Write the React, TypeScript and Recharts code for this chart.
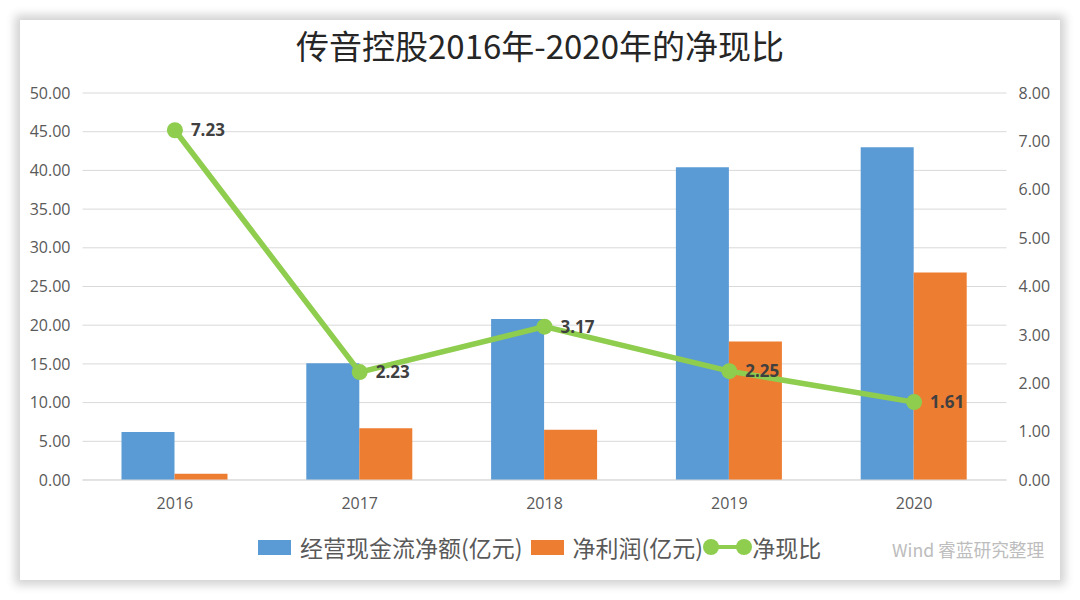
import React from 'react';
import { ComposedChart, Bar, Line, XAxis, YAxis, CartesianGrid, Legend, LabelList } from 'recharts';

const years = ['2016', '2017', '2018', '2019', '2020'];
const cashFlow = [6.2, 15.1, 20.8, 40.4, 43.0];
const netProfit = [0.8, 6.7, 6.5, 17.9, 26.8];
const ratio = [7.23, 2.23, 3.17, 2.25, 1.61];
const leftTicks = [0, 5, 10, 15, 20, 25, 30, 35, 40, 45, 50];
const rightTicks = [0, 1, 2, 3, 4, 5, 6, 7, 8];

const data = years.map((year, i) => ({
  year,
  cashFlow: cashFlow[i],
  netProfit: netProfit[i],
  ratio: ratio[i],
}));

const BLUE = '#5B9BD5';
const ORANGE = '#ED7D31';
const GREEN = '#8ECD4E';
const TICK_FONT = '"Open Sans", "Noto Sans", sans-serif';
const CJK_FONT = '"Noto Sans CJK SC", sans-serif';

const tickStyle = { fill: '#595959', fontSize: 16, fontFamily: TICK_FONT };

const LegendContent: React.FC<any> = ({ payload }) => (
  <div style={{ display: 'flex', alignItems: 'center', height: 30, fontFamily: CJK_FONT, fontSize: 23, color: '#595959', whiteSpace: 'nowrap' }}>
    {(payload || []).map((item: any, i: number) =>
      item.type === 'line' ? (
        <span key={item.value} style={{ display: 'flex', alignItems: 'center' }}>
          <svg width={49} height={20}>
            <line x1={8} y1={10} x2={41} y2={10} stroke={item.color} strokeWidth={4} />
            <circle cx={8} cy={10} r={8} fill={item.color} />
            <circle cx={41} cy={10} r={8} fill={item.color} />
          </svg>
          <span>{item.value}</span>
        </span>
      ) : (
        <span key={item.value} style={{ display: 'flex', alignItems: 'center', marginRight: i === 0 ? 8 : 0 }}>
          <span style={{ width: 33, height: 15, background: item.color, marginRight: 9 }} />
          <span>{item.value}</span>
        </span>
      ),
    )}
  </div>
);

export default function App() {
  return (
    <div style={{ position: 'absolute', left: 0, top: 0, width: 1080, height: 600, background: '#fff', overflow: 'hidden' }}>
      <div style={{ position: 'absolute', left: 20, top: 20, width: 1040, height: 560, background: '#fff', boxShadow: '0 0 9px 5px #d2d2d2' }} />
      <div style={{ position: 'absolute', left: 20, top: 19, width: 1040, textAlign: 'center', fontFamily: CJK_FONT, fontSize: 33, lineHeight: '52px', color: '#262626' }}>
        传音控股2016年-2020年的净现比
      </div>
      <div style={{ position: 'absolute', left: 892, top: 537, fontFamily: CJK_FONT, fontSize: 17.7, lineHeight: '24px', color: '#bdbdbd', whiteSpace: 'nowrap' }}>
        Wind 睿蓝研究整理
      </div>
      <div style={{ position: 'absolute', left: 0, top: 0 }}>
        <ComposedChart width={1080} height={600} data={data} barGap={0} barSize={53} margin={{ top: 93, right: 0, bottom: 90, left: 0 }}>
          <CartesianGrid yAxisId="left" stroke="#D9D9D9" vertical={false} />
          <XAxis dataKey="year" height={30} stroke="#D9D9D9" tickLine={false} tick={tickStyle} tickMargin={12} />
          <YAxis yAxisId="left" width={82.5} domain={[0, 50]} ticks={leftTicks} axisLine={false} tickLine={false} tick={tickStyle} tickMargin={6} tickFormatter={(v: number) => v.toFixed(2)} />
          <YAxis yAxisId="right" orientation="right" width={73.5} domain={[0, 8]} ticks={rightTicks} axisLine={false} tickLine={false} tick={tickStyle} tickMargin={6} tickFormatter={(v: number) => v.toFixed(2)} />
          <Legend layout="horizontal" verticalAlign="middle" itemSorter={null} content={<LegendContent />} wrapperStyle={{ position: 'absolute', left: 258, top: 532, width: 600, height: 30 }} />
          <Bar yAxisId="left" dataKey="cashFlow" name="经营现金流净额(亿元)" fill={BLUE} isAnimationActive={false} />
          <Bar yAxisId="left" dataKey="netProfit" name="净利润(亿元)" fill={ORANGE} isAnimationActive={false} />
          <Line yAxisId="right" dataKey="ratio" name="净现比" stroke={GREEN} strokeWidth={5.5} dot={{ r: 8, fill: GREEN, stroke: GREEN, strokeWidth: 0 }} isAnimationActive={false}>
            <LabelList dataKey="ratio" position="right" offset={16} formatter={(v: number) => v.toFixed(2)} style={{ fill: '#404040', fontSize: 17, fontWeight: 700, fontFamily: TICK_FONT }} />
          </Line>
        </ComposedChart>
      </div>
    </div>
  );
}
